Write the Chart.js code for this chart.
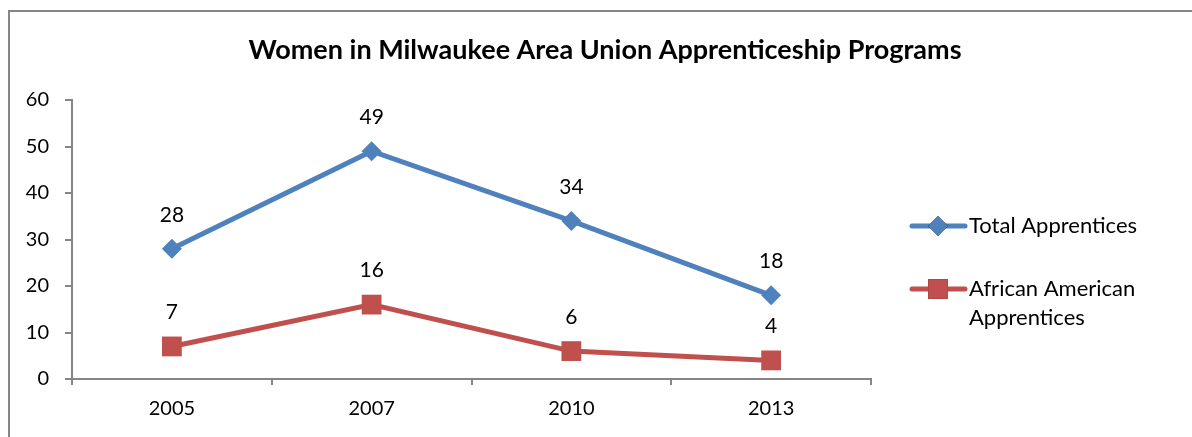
<!DOCTYPE html>
<html>
<head>
<meta charset="utf-8">
<script src="https://cdn.jsdelivr.net/npm/chart.js@4/dist/chart.umd.min.js"></script>
<style>
  html, body { margin: 0; padding: 0; background: #fff; }
  #wrap { width: 1192px; height: 437px; position: relative; }
</style>
</head>
<body>
<div id="wrap"><canvas id="myChart" width="1192" height="437"></canvas></div>
<script>
const years = ["2005", "2007", "2010", "2013"];
const totalApprentices = [28, 49, 34, 18];
const africanAmerican = [7, 16, 6, 4];
const seriesNames = ["Total Apprentices", ["African American", "Apprentices"]];
const chartTitle = "Women in Milwaukee Area Union Apprenticeship Programs";

const FONT = "Lato, 'Open Sans', sans-serif";
const AXIS = "#868686";

// frame, title, data labels and the wrapped legend
const decor = {
  id: "decor",
  beforeDraw(chart) {
    const ctx = chart.ctx;
    ctx.save();
    ctx.fillStyle = "#fff";
    ctx.fillRect(0, 0, chart.width, chart.height);
    ctx.strokeStyle = AXIS;
    ctx.lineWidth = 2;
    ctx.strokeRect(9, 11, chart.width + 20, chart.height + 20);
    ctx.fillStyle = "#000";
    ctx.font = "bold 27px " + FONT;
    ctx.textAlign = "center";
    ctx.textBaseline = "middle";
    ctx.fillText(chartTitle, 605, 50);
    ctx.restore();
  },
  afterDatasetsDraw(chart) {
    const ctx = chart.ctx;
    ctx.save();
    ctx.font = "21px " + FONT;
    ctx.fillStyle = "#000";
    ctx.textAlign = "center";
    ctx.textBaseline = "middle";
    chart.data.datasets.forEach((ds, i) => {
      chart.getDatasetMeta(i).data.forEach((pt, j) => {
        ctx.fillText(String(ds.data[j]), pt.x, pt.y - 34);
      });
    });
    ctx.restore();
  },
  afterDraw(chart) {
    const ctx = chart.ctx;
    const ys = [226, 289];
    ctx.save();
    chart.data.datasets.forEach((ds, i) => {
      const y = ys[i];
      ctx.strokeStyle = ds.borderColor;
      ctx.lineWidth = ds.borderWidth;
      ctx.lineCap = "round";
      ctx.beginPath();
      ctx.moveTo(912, y);
      ctx.lineTo(965, y);
      ctx.stroke();
      Chart.helpers.drawPoint(ctx, {
        pointStyle: ds.pointStyle,
        radius: ds.pointRadius,
        borderWidth: 0,
        rotation: 0
      }, 938, y);
      ctx.fillStyle = ds.backgroundColor;
      ctx.fill();
      ctx.fillStyle = "#000";
      ctx.font = "22px " + FONT;
      ctx.textAlign = "left";
      ctx.textBaseline = "middle";
      const lines = [].concat(ds.label);
      lines.forEach((t, k) => ctx.fillText(t, 969, y + k * 29));
    });
    ctx.restore();
  }
};

const config = {
  type: "line",
  data: {
    labels: years,
    datasets: [
      {
        label: seriesNames[0],
        data: totalApprentices,
        borderColor: "#4F81BD",
        backgroundColor: "#4F81BD",
        borderWidth: 5,
        pointStyle: "rectRot",
        pointRadius: 10,
        pointBorderWidth: 0,
        tension: 0
      },
      {
        label: seriesNames[1],
        data: africanAmerican,
        borderColor: "#C0504D",
        backgroundColor: "#C0504D",
        borderWidth: 5,
        pointStyle: "rect",
        pointRadius: 14,
        pointBorderWidth: 0,
        tension: 0
      }
    ]
  },
  options: {
    responsive: false,
    animation: false,
    events: [],
    layout: { padding: { top: 100, right: 321, bottom: 0, left: 0 } },
    plugins: {
      legend: { display: false },
      title: { display: false },
      tooltip: { enabled: false }
    },
    scales: {
      x: {
        offset: true,
        afterFit: (s) => { s.height = 58; },
        grid: {
          offset: true,
          drawOnChartArea: false,
          drawTicks: true,
          tickLength: 6,
          color: AXIS,
          lineWidth: 2
        },
        border: { color: AXIS, width: 2 },
        ticks: { color: "#000", font: { family: FONT, size: 20 }, padding: 12 }
      },
      y: {
        min: 0,
        max: 60,
        afterFit: (s) => { s.width = 72; },
        grid: {
          drawOnChartArea: false,
          drawTicks: true,
          tickLength: 7,
          color: AXIS,
          lineWidth: 2
        },
        border: { color: AXIS, width: 2 },
        ticks: { stepSize: 10, color: "#000", font: { family: FONT, size: 20 }, padding: 16 }
      }
    }
  },
  plugins: [decor]
};

const myChart = new Chart(document.getElementById("myChart"), config);
</script>
</body>
</html>
